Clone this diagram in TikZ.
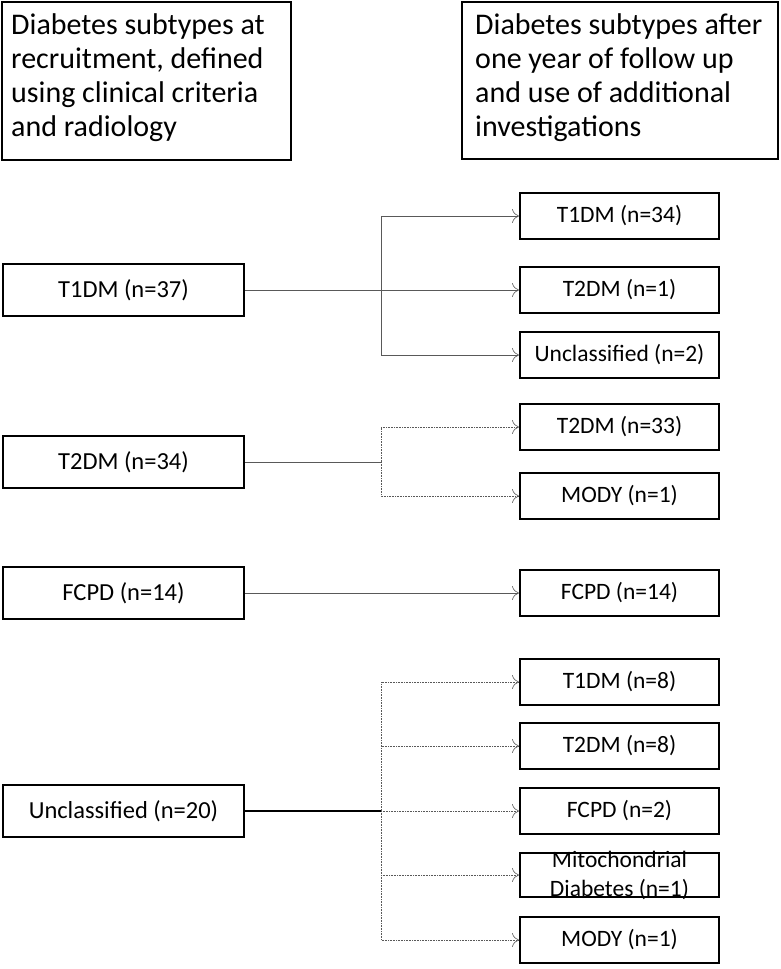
\documentclass[tikz,border=0pt]{standalone}
\usepackage{fontspec}
\setmainfont{Carlito}
\usetikzlibrary{arrows.meta}
\begin{document}
\begin{tikzpicture}[x=1pt,y=-1pt,
  box/.style={draw,line width=2pt,minimum width=199pt,minimum height=46pt,inner sep=1pt,align=center,font=\fontsize{23.5}{28}\selectfont},
  lbox/.style={draw,line width=2pt,minimum width=241pt,minimum height=52pt,inner sep=1pt,font=\fontsize{24.5}{28}\selectfont},
  conn/.style={gray!70!black,line width=0.6pt},
  arr/.style={gray!70!black,line width=0.6pt,-{To[length=7pt,width=14pt]}},
  darr/.style={arr,densely dotted}]
\useasboundingbox (0,0) rectangle (781,969);
\draw[line width=2.4pt] (2,2) rectangle (291,160);
\node[anchor=north west,align=left,inner sep=0pt,font=\fontsize{30}{34}\selectfont] (h1) at (11,13) {Diabetes subtypes at\\recruitment, defined\\using clinical criteria\\and radiology};
\draw[line width=2.4pt] (462,2) rectangle (778,159);
\node[anchor=north west,align=left,inner sep=0pt,font=\fontsize{30}{34}\selectfont] (h2) at (475,13) {Diabetes subtypes after\\one year of follow up\\and use of additional\\investigations};
% group 1
\node[lbox] (a) at (123.5,290) {T1DM (n=37)};
\node[box] (a1) at (619.5,216) {T1DM (n=34)};
\node[box] (a2) at (619.5,290) {T2DM (n=1)};
\node[box] (a3) at (619.5,355) {Unclassified (n=2)};
\coordinate (ja) at (381,290);
\draw[line width=0.9pt] (a.east) -- (ja);
\draw[arr] (ja) |- (a1.west);
\draw[arr] (a.east) -- (a2.west);
\draw[arr] (ja) |- (a3.west);
% group 2
\node[lbox] (b) at (123.5,462) {T2DM (n=34)};
\node[box] (b1) at (619.5,427) {T2DM (n=33)};
\node[box] (b2) at (619.5,496) {MODY (n=1)};
\coordinate (jb) at (381,462);
\draw[conn] (b.east) -- (jb);
\draw[darr] (jb) |- (b1.west);
\draw[darr] (jb) |- (b2.west);
% group 3
\node[lbox] (c) at (123.5,593) {FCPD (n=14)};
\node[box] (c1) at (619.5,593) {FCPD (n=14)};
\draw[arr] (c.east) -- (c1.west);
% group 4
\node[lbox] (d) at (123.5,811) {Unclassified (n=20)};
\node[box] (d1) at (619.5,682) {T1DM (n=8)};
\node[box] (d2) at (619.5,746) {T2DM (n=8)};
\node[box] (d3) at (619.5,811) {FCPD (n=2)};
\node[draw,line width=2pt,minimum width=199pt,minimum height=44pt,inner sep=0pt] (d4) at (619.5,875) {};
\node[align=center,inner sep=0pt,font=\fontsize{23.5}{29}\selectfont] (d4t) at (619.5,875) {Mitochondrial\\Diabetes (n=1)};
\node[box] (d5) at (619.5,940) {MODY (n=1)};
\coordinate (jd) at (381,811);
\draw[line width=1.1pt] (d.east) -- (jd);
\draw[darr] (jd) |- (d1.west);
\draw[darr] (jd) |- (d2.west);
\draw[darr] (jd) -- (d3.west);
\draw[darr] (jd) |- (d4.west);
\draw[darr] (jd) |- (d5.west);
\end{tikzpicture}
\end{document}
